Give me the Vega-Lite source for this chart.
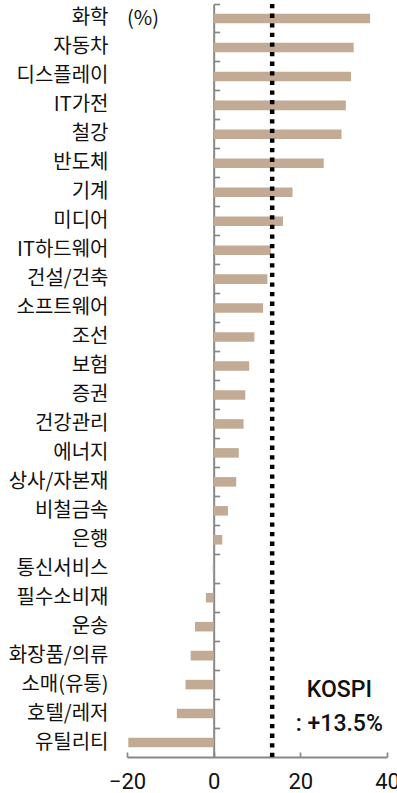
{
  "$schema": "https://vega.github.io/schema/vega-lite/v6.json",
  "width": 260,
  "height": 753,
  "autosize": {"type": "none"},
  "padding": {"left": 127, "top": 4, "right": 10, "bottom": 36},
  "background": "white",
  "config": {"view": {"stroke": null}, "font": "Noto Sans CJK KR"},
  "datasets": {
    "sectors": [
      {"sector": "화학", "value": 36.1},
      {"sector": "자동차", "value": 32.3},
      {"sector": "디스플레이", "value": 31.7},
      {"sector": "IT가전", "value": 30.5},
      {"sector": "철강", "value": 29.5},
      {"sector": "반도체", "value": 25.4},
      {"sector": "기계", "value": 18.2},
      {"sector": "미디어", "value": 16.0},
      {"sector": "IT하드웨어", "value": 13.2},
      {"sector": "건설/건축", "value": 12.4},
      {"sector": "소프트웨어", "value": 11.4},
      {"sector": "조선", "value": 9.4},
      {"sector": "보험", "value": 8.2},
      {"sector": "증권", "value": 7.3},
      {"sector": "건강관리", "value": 6.9},
      {"sector": "에너지", "value": 5.8},
      {"sector": "상사/자본재", "value": 5.2},
      {"sector": "비철금속", "value": 3.3},
      {"sector": "은행", "value": 2.0},
      {"sector": "통신서비스", "value": -0.2},
      {"sector": "필수소비재", "value": -1.8},
      {"sector": "운송", "value": -4.3},
      {"sector": "화장품/의류", "value": -5.3},
      {"sector": "소매(유통)", "value": -6.5},
      {"sector": "호텔/레저", "value": -8.5},
      {"sector": "유틸리티", "value": -19.7}
    ],
    "unit": [{"sector": "화학", "text": "(%)"}],
    "kospi": [{"sector": "소매(유통)", "value": 13.5, "text": ["KOSPI", ": +13.5%"]}]
  },
  "layer": [
    {
      "data": {"name": "sectors"},
      "mark": {"type": "bar", "color": "#c3aa95", "height": {"band": 0.33}},
      "encoding": {
        "y": {
          "field": "sector",
          "type": "nominal",
          "sort": null,
          "scale": {"paddingInner": 0, "paddingOuter": 0},
          "axis": {
            "orient": "left",
            "title": null,
            "domain": false,
            "ticks": false,
            "labelPadding": 19,
            "labelFontSize": 20,
            "labelColor": "#111111",
            "labelFont": "Noto Sans CJK KR"
          }
        },
        "x": {
          "field": "value",
          "type": "quantitative",
          "scale": {"domain": [-20, 40], "nice": false, "zero": false},
          "axis": {
            "title": null,
            "grid": false,
            "values": [-20, 0, 20, 40],
            "labelFlush": false,
            "labelBound": false,
            "domainColor": "#888888",
            "domainWidth": 2,
            "tickColor": "#888888",
            "tickWidth": 1.7,
            "tickSize": -5,
            "labelFont": "Roboto",
            "labelFontSize": 22,
            "labelColor": "#111111",
            "labelPadding": 19
          }
        }
      }
    },
    {
      "data": {"name": "unit"},
      "mark": {"type": "text", "align": "left", "baseline": "middle", "fontSize": 20, "color": "#111111", "dy": 1},
      "encoding": {
        "y": {
          "field": "sector",
          "type": "nominal",
          "sort": null,
          "axis": {
            "orient": "right",
            "offset": -173.33,
            "title": null,
            "labels": false,
            "domainColor": "#888888",
            "domainWidth": 2,
            "tickColor": "#888888",
            "tickWidth": 1.7,
            "tickSize": 6,
            "bandPosition": 0
          }
        },
        "x": {"datum": -20},
        "text": {"field": "text"}
      }
    },
    {
      "data": {"name": "kospi"},
      "mark": {"type": "rule", "color": "#000000", "strokeWidth": 4.5, "strokeDash": [4.3, 5.3]},
      "encoding": {
        "x": {"field": "value", "type": "quantitative"}
      }
    },
    {
      "data": {"name": "kospi"},
      "mark": {"type": "text", "align": "center", "baseline": "middle", "font": "Roboto", "fontSize": 23, "fontWeight": 500, "lineHeight": 34, "color": "#111111", "dy": -9},
      "encoding": {
        "y": {"field": "sector", "type": "nominal", "sort": null, "bandPosition": 1, "axis": null},
        "x": {"datum": 29},
        "text": {"field": "text"}
      }
    }
  ],
  "resolve": {"axis": {"y": "independent"}}
}
